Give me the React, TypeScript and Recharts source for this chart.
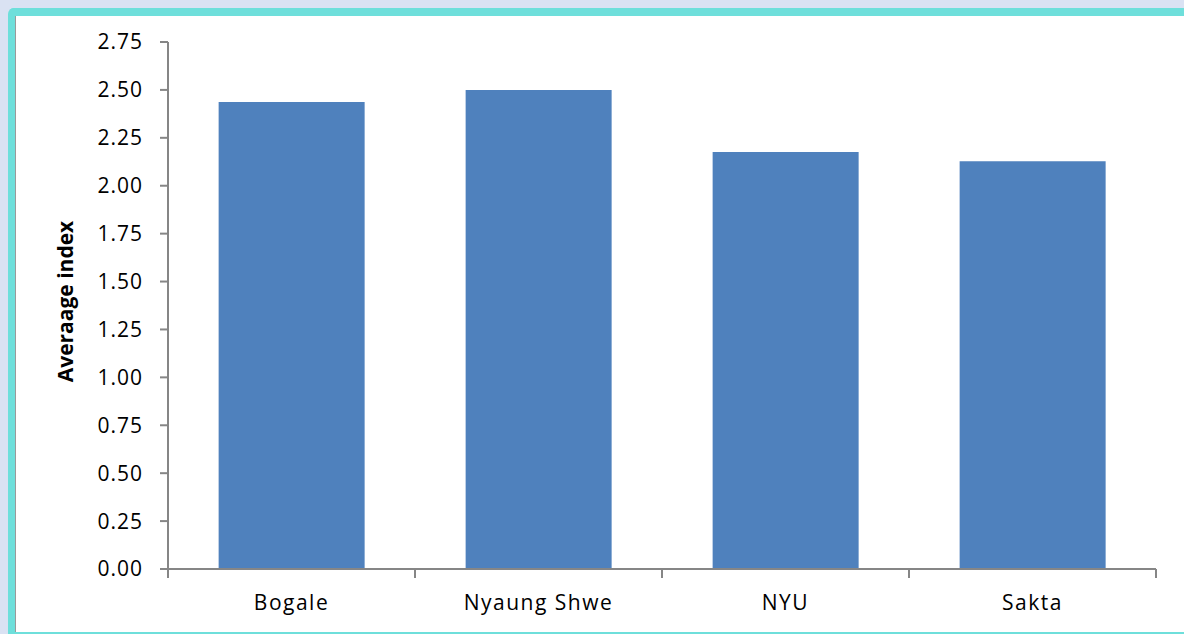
import React from "react";
import { BarChart, Bar, XAxis, YAxis } from "recharts";

const categories = ["Bogale", "Nyaung Shwe", "NYU", "Sakta"];
const values = [2.437, 2.5, 2.176, 2.128];
const yTicks = [0, 0.25, 0.5, 0.75, 1.0, 1.25, 1.5, 1.75, 2.0, 2.25, 2.5, 2.75];
const yLabel = "Averaage index";

const data = categories.map((c, i) => ({ name: c, value: values[i] }));

const CHART_W = 1168;
const CHART_H = 616;
const MARGIN = { top: 26, right: 28, bottom: 33, left: 0 };
const Y_AXIS_W = 152;
const PLOT_W = CHART_W - MARGIN.left - MARGIN.right - Y_AXIS_W;
const BAND = PLOT_W / categories.length;
const AXIS_COLOR = "#868686";
const FONT = "'Open Sans', 'Liberation Sans', sans-serif";

const XTick = (props: any) => {
  const { x, y, payload, index } = props;
  const isLast = index === categories.length - 1;
  return (
    <g>
      <line x1={x - BAND / 2} x2={x - BAND / 2} y1={y - 9} y2={y} stroke={AXIS_COLOR} strokeWidth={2} />
      {isLast && (
        <line x1={x + BAND / 2} x2={x + BAND / 2} y1={y - 9} y2={y} stroke={AXIS_COLOR} strokeWidth={2} />
      )}
      <text
        x={x}
        y={y + 24}
        textAnchor="middle"
        dominantBaseline="central"
        fontFamily={FONT}
        fontSize={21}
        letterSpacing={1.5}
        fill="#000"
      >
        {payload.value}
      </text>
    </g>
  );
};

const YLabel = (props: any) => {
  const vb = props.viewBox || {};
  const cx = vb.x + 49;
  const cy = vb.y + vb.height / 2 - 4;
  return (
    <text
      x={cx}
      y={cy}
      transform={`rotate(-90, ${cx}, ${cy})`}
      textAnchor="middle"
      dominantBaseline="central"
      fontFamily={FONT}
      fontWeight="bold"
      fontSize={21}
      fill="#000"
    >
      {yLabel}
    </text>
  );
};

export default function App() {
  return (
    <div
      style={{
        position: "fixed",
        left: 0,
        top: 0,
        width: 1184,
        height: 634,
        background: "#dae2f3",
        overflow: "hidden",
      }}
    >
      <div
        style={{
          position: "absolute",
          left: 8,
          top: 8,
          width: 1240,
          height: 616,
          borderTop: "8px solid #6edfdb",
          borderLeft: "7px solid #6edfdb",
          borderBottom: "8px solid #6edfdb",
          borderRadius: 6,
          background: "#ffffff",
        }}
      >
        <div
          style={{
            position: "absolute",
            left: 0,
            top: 0,
            width: 1,
            height: 616,
            background: "#9a9a9a",
          }}
        />
        <div style={{ position: "absolute", left: 1, top: 0 }}>
          <BarChart
            width={CHART_W}
            height={CHART_H}
            data={data}
            margin={MARGIN}
            barCategoryGap="20.5%"
          >
            <XAxis
              dataKey="name"
              axisLine={{ stroke: AXIS_COLOR, strokeWidth: 2 }}
              tickLine={false}
              tickSize={9}
              tickMargin={0}
              height={30}
              interval={0}
              tick={<XTick />}
            />
            <YAxis
              width={Y_AXIS_W}
              domain={[0, 2.75]}
              ticks={yTicks}
              interval={0}
              tickFormatter={(v: number) => v.toFixed(2)}
              axisLine={{ stroke: AXIS_COLOR, strokeWidth: 2 }}
              tickLine={{ stroke: AXIS_COLOR, strokeWidth: 2 }}
              tickSize={8}
              tickMargin={17}
              tick={{ fill: "#000", fontSize: 21, fontFamily: FONT, letterSpacing: 1 }}
              label={<YLabel />}
            />
            <Bar dataKey="value" fill="#4f81bd" isAnimationActive={false} />
          </BarChart>
        </div>
      </div>
    </div>
  );
}
